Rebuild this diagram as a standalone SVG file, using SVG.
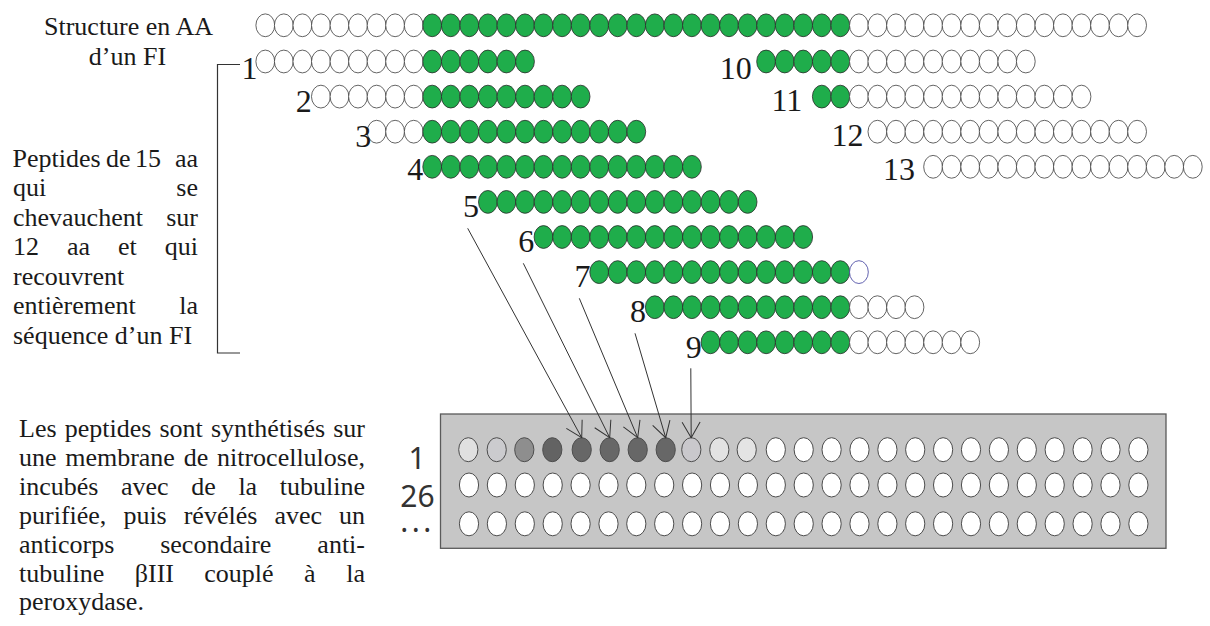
<svg xmlns="http://www.w3.org/2000/svg" width="1210" height="626" viewBox="0 0 1210 626">
<style>
.g{fill:#1fad4b;stroke:#2a2a2a;stroke-width:0.8}
.w{fill:#fff;stroke:#3c3c3c;stroke-width:0.8}
.t{font-family:'Liberation Serif',serif;font-size:26px;fill:#1a1a1a}
.n{font-family:'Liberation Serif',serif;font-size:32px;fill:#1a1a1a}
.s{font-family:'Noto Sans',sans-serif;font-size:30px;fill:#333;text-anchor:middle}
.well{stroke:#4d4d4d;stroke-width:1}
.conn line{stroke:#333;stroke-width:1;fill:none}
</style>
<defs>
<ellipse id="gb" class="g" rx="9.4" ry="11.4"/>
<ellipse id="wb" class="w" rx="9.4" ry="11.4"/>
<ellipse id="wl" class="well" rx="9.6" ry="12"/>
<marker id="ah" viewBox="-18 -10 20 20" markerWidth="20" markerHeight="20" refX="0" refY="0" orient="auto" markerUnits="userSpaceOnUse" overflow="visible">
<path d="M-15.6,-9 L0,0 L-15.6,9" fill="none" stroke="#333" stroke-width="1"/>
</marker>
</defs>
<rect width="1210" height="626" fill="#fff"/>

<g id="title">
<text class="t" x="128.5" y="35" text-anchor="middle">Structure en AA</text>
<text class="t" x="127.5" y="65" text-anchor="middle">d’un FI</text>
</g>

<g id="aa-structure" transform="translate(0,25.3)">
<use href="#wb" x="265.3"/><use href="#wb" x="283.8"/><use href="#wb" x="302.4"/><use href="#wb" x="320.9"/><use href="#wb" x="339.5"/><use href="#wb" x="358.0"/><use href="#wb" x="376.6"/><use href="#wb" x="395.1"/><use href="#wb" x="413.7"/>
<use href="#gb" x="432.2"/><use href="#gb" x="450.8"/><use href="#gb" x="469.3"/><use href="#gb" x="487.9"/><use href="#gb" x="506.4"/><use href="#gb" x="525.0"/><use href="#gb" x="543.5"/><use href="#gb" x="562.1"/><use href="#gb" x="580.6"/><use href="#gb" x="599.2"/><use href="#gb" x="617.7"/><use href="#gb" x="636.3"/><use href="#gb" x="654.8"/><use href="#gb" x="673.4"/><use href="#gb" x="691.9"/><use href="#gb" x="710.5"/><use href="#gb" x="729.0"/><use href="#gb" x="747.6"/><use href="#gb" x="766.1"/><use href="#gb" x="784.7"/><use href="#gb" x="803.2"/><use href="#gb" x="821.8"/><use href="#gb" x="840.3"/>
<use href="#wb" x="858.9"/><use href="#wb" x="877.4"/><use href="#wb" x="896.0"/><use href="#wb" x="914.5"/><use href="#wb" x="933.1"/><use href="#wb" x="951.6"/><use href="#wb" x="970.2"/><use href="#wb" x="988.7"/><use href="#wb" x="1007.3"/><use href="#wb" x="1025.8"/><use href="#wb" x="1044.4"/><use href="#wb" x="1062.9"/><use href="#wb" x="1081.5"/><use href="#wb" x="1100.0"/><use href="#wb" x="1118.6"/><use href="#wb" x="1137.1"/>
</g>

<g id="peptide-1">
<g transform="translate(0,61.5)">
<use href="#wb" x="265.3"/><use href="#wb" x="283.8"/><use href="#wb" x="302.4"/><use href="#wb" x="320.9"/><use href="#wb" x="339.5"/><use href="#wb" x="358.0"/><use href="#wb" x="376.6"/><use href="#wb" x="395.1"/><use href="#wb" x="413.7"/>
<use href="#gb" x="432.2"/><use href="#gb" x="450.8"/><use href="#gb" x="469.3"/><use href="#gb" x="487.9"/><use href="#gb" x="506.4"/><use href="#gb" x="525.0"/>
</g>
<text class="n" x="241.4" y="79.3">1</text>
</g>

<g id="peptide-2">
<g transform="translate(0,96.6)">
<use href="#wb" x="320.9"/><use href="#wb" x="339.5"/><use href="#wb" x="358.0"/><use href="#wb" x="376.6"/><use href="#wb" x="395.1"/><use href="#wb" x="413.7"/>
<use href="#gb" x="432.2"/><use href="#gb" x="450.8"/><use href="#gb" x="469.3"/><use href="#gb" x="487.9"/><use href="#gb" x="506.4"/><use href="#gb" x="525.0"/><use href="#gb" x="543.5"/><use href="#gb" x="562.1"/><use href="#gb" x="580.6"/>
</g>
<text class="n" x="295.7" y="111.5">2</text>
</g>

<g id="peptide-3">
<g transform="translate(0,131.7)">
<use href="#wb" x="376.6"/><use href="#wb" x="395.1"/><use href="#wb" x="413.7"/>
<use href="#gb" x="432.2"/><use href="#gb" x="450.8"/><use href="#gb" x="469.3"/><use href="#gb" x="487.9"/><use href="#gb" x="506.4"/><use href="#gb" x="525.0"/><use href="#gb" x="543.5"/><use href="#gb" x="562.1"/><use href="#gb" x="580.6"/><use href="#gb" x="599.2"/><use href="#gb" x="617.7"/><use href="#gb" x="636.3"/>
</g>
<text class="n" x="355.3" y="146.5">3</text>
</g>

<g id="peptide-4">
<g transform="translate(0,166.8)">
<use href="#gb" x="432.2"/><use href="#gb" x="450.8"/><use href="#gb" x="469.3"/><use href="#gb" x="487.9"/><use href="#gb" x="506.4"/><use href="#gb" x="525.0"/><use href="#gb" x="543.5"/><use href="#gb" x="562.1"/><use href="#gb" x="580.6"/><use href="#gb" x="599.2"/><use href="#gb" x="617.7"/><use href="#gb" x="636.3"/><use href="#gb" x="654.8"/><use href="#gb" x="673.4"/><use href="#gb" x="691.9"/>
</g>
<text class="n" x="407.3" y="180.3">4</text>
</g>

<g id="peptide-5">
<g transform="translate(0,201.9)">
<use href="#gb" x="487.9"/><use href="#gb" x="506.4"/><use href="#gb" x="525.0"/><use href="#gb" x="543.5"/><use href="#gb" x="562.1"/><use href="#gb" x="580.6"/><use href="#gb" x="599.2"/><use href="#gb" x="617.7"/><use href="#gb" x="636.3"/><use href="#gb" x="654.8"/><use href="#gb" x="673.4"/><use href="#gb" x="691.9"/><use href="#gb" x="710.5"/><use href="#gb" x="729.0"/><use href="#gb" x="747.6"/>
</g>
<text class="n" x="463" y="216.7">5</text>
</g>

<g id="peptide-6">
<g transform="translate(0,237)">
<use href="#gb" x="543.5"/><use href="#gb" x="562.1"/><use href="#gb" x="580.6"/><use href="#gb" x="599.2"/><use href="#gb" x="617.7"/><use href="#gb" x="636.3"/><use href="#gb" x="654.8"/><use href="#gb" x="673.4"/><use href="#gb" x="691.9"/><use href="#gb" x="710.5"/><use href="#gb" x="729.0"/><use href="#gb" x="747.6"/><use href="#gb" x="766.1"/><use href="#gb" x="784.7"/><use href="#gb" x="803.2"/>
</g>
<text class="n" x="518.2" y="251.7">6</text>
</g>

<g id="peptide-7">
<g transform="translate(0,272.1)">
<use href="#gb" x="599.2"/><use href="#gb" x="617.7"/><use href="#gb" x="636.3"/><use href="#gb" x="654.8"/><use href="#gb" x="673.4"/><use href="#gb" x="691.9"/><use href="#gb" x="710.5"/><use href="#gb" x="729.0"/><use href="#gb" x="747.6"/><use href="#gb" x="766.1"/><use href="#gb" x="784.7"/><use href="#gb" x="803.2"/><use href="#gb" x="821.8"/><use href="#gb" x="840.3"/>
<ellipse cx="858.9" cy="0" rx="9.4" ry="11.4" fill="#fff" stroke="#3a3a9a" stroke-width="0.8"/>
</g>
<text class="n" x="574.4" y="287.3">7</text>
</g>

<g id="peptide-8">
<g transform="translate(0,307.2)">
<use href="#gb" x="654.8"/><use href="#gb" x="673.4"/><use href="#gb" x="691.9"/><use href="#gb" x="710.5"/><use href="#gb" x="729.0"/><use href="#gb" x="747.6"/><use href="#gb" x="766.1"/><use href="#gb" x="784.7"/><use href="#gb" x="803.2"/><use href="#gb" x="821.8"/><use href="#gb" x="840.3"/>
<use href="#wb" x="858.9"/><use href="#wb" x="877.4"/><use href="#wb" x="896.0"/><use href="#wb" x="914.5"/>
</g>
<text class="n" x="629.9" y="321.7">8</text>
</g>

<g id="peptide-9">
<g transform="translate(0,342.3)">
<use href="#gb" x="710.5"/><use href="#gb" x="729.0"/><use href="#gb" x="747.6"/><use href="#gb" x="766.1"/><use href="#gb" x="784.7"/><use href="#gb" x="803.2"/><use href="#gb" x="821.8"/><use href="#gb" x="840.3"/>
<use href="#wb" x="858.9"/><use href="#wb" x="877.4"/><use href="#wb" x="896.0"/><use href="#wb" x="914.5"/><use href="#wb" x="933.1"/><use href="#wb" x="951.6"/><use href="#wb" x="970.2"/>
</g>
<text class="n" x="685.7" y="357.5">9</text>
</g>

<g id="peptide-10">
<g transform="translate(0,61.5)">
<use href="#gb" x="766.1"/><use href="#gb" x="784.7"/><use href="#gb" x="803.2"/><use href="#gb" x="821.8"/><use href="#gb" x="840.3"/>
<use href="#wb" x="858.9"/><use href="#wb" x="877.4"/><use href="#wb" x="896.0"/><use href="#wb" x="914.5"/><use href="#wb" x="933.1"/><use href="#wb" x="951.6"/><use href="#wb" x="970.2"/><use href="#wb" x="988.7"/><use href="#wb" x="1007.3"/><use href="#wb" x="1025.8"/>
</g>
<text class="n" x="719.7" y="79.3">10</text>
</g>

<g id="peptide-11">
<g transform="translate(0,96.6)">
<use href="#gb" x="821.8"/><use href="#gb" x="840.3"/>
<use href="#wb" x="858.9"/><use href="#wb" x="877.4"/><use href="#wb" x="896.0"/><use href="#wb" x="914.5"/><use href="#wb" x="933.1"/><use href="#wb" x="951.6"/><use href="#wb" x="970.2"/><use href="#wb" x="988.7"/><use href="#wb" x="1007.3"/><use href="#wb" x="1025.8"/><use href="#wb" x="1044.4"/><use href="#wb" x="1062.9"/><use href="#wb" x="1081.5"/>
</g>
<text class="n" x="771.4" y="111">11</text>
</g>

<g id="peptide-12">
<g transform="translate(0,131.7)">
<use href="#wb" x="877.4"/><use href="#wb" x="896.0"/><use href="#wb" x="914.5"/><use href="#wb" x="933.1"/><use href="#wb" x="951.6"/><use href="#wb" x="970.2"/><use href="#wb" x="988.7"/><use href="#wb" x="1007.3"/><use href="#wb" x="1025.8"/><use href="#wb" x="1044.4"/><use href="#wb" x="1062.9"/><use href="#wb" x="1081.5"/><use href="#wb" x="1100.0"/><use href="#wb" x="1118.6"/><use href="#wb" x="1137.1"/>
</g>
<text class="n" x="831.4" y="146">12</text>
</g>

<g id="peptide-13">
<g transform="translate(0,166.8)">
<use href="#wb" x="933.1"/><use href="#wb" x="951.6"/><use href="#wb" x="970.2"/><use href="#wb" x="988.7"/><use href="#wb" x="1007.3"/><use href="#wb" x="1025.8"/><use href="#wb" x="1044.4"/><use href="#wb" x="1062.9"/><use href="#wb" x="1081.5"/><use href="#wb" x="1100.0"/><use href="#wb" x="1118.6"/><use href="#wb" x="1137.1"/><use href="#wb" x="1155.7"/><use href="#wb" x="1174.2"/><use href="#wb" x="1192.8"/>
</g>
<text class="n" x="883.1" y="180">13</text>
</g>

<g id="bracket">
<path d="M240,64.5 H217.5 V353 H240" fill="none" stroke="#333" stroke-width="1.2"/>
</g>

<g id="peptide-description">
<text class="t" x="12.5" y="166.5">Peptides</text>
<text class="t" x="106" y="166.5">de</text>
<text class="t" x="135" y="166.5">15</text>
<text class="t" x="198" y="166.5" text-anchor="end">aa</text>
<text class="t" x="13" y="196">qui</text>
<text class="t" x="198" y="196" text-anchor="end">se</text>
<text class="t" x="13" y="225.5">chevauchent</text>
<text class="t" x="198" y="225.5" text-anchor="end">sur</text>
<text class="t" x="13" y="255">12</text>
<text class="t" x="67" y="255">aa</text>
<text class="t" x="118" y="255">et</text>
<text class="t" x="198" y="255" text-anchor="end">qui</text>
<text class="t" x="13" y="284.5">recouvrent</text>
<text class="t" x="13" y="314">entièrement</text>
<text class="t" x="198" y="314" text-anchor="end">la</text>
<text class="t" x="13" y="343.5">séquence d’un FI</text>
</g>

<g id="membrane">
<rect x="440.5" y="414" width="725.5" height="134.3" fill="#c6c6c6" stroke="#5a5a5a" stroke-width="1.3"/>
<g transform="translate(0,449.7)" fill="#fff">
<use href="#wl" x="468.3" fill="#e0e0e0"/><use href="#wl" x="496.7" fill="#cbcbce"/><use href="#wl" x="524.3" fill="#8e8e8e"/><use href="#wl" x="552.3" fill="#636363"/><use href="#wl" x="581.7" fill="#676767"/><use href="#wl" x="609.7" fill="#676767"/><use href="#wl" x="637.7" fill="#676767"/><use href="#wl" x="665.7" fill="#676767"/><use href="#wl" x="691.3" fill="#c9c8cc"/><use href="#wl" x="719.3" fill="#e2e2e2"/><use href="#wl" x="746.7" fill="#e4e4e4"/>
<use href="#wl" x="775.8"/><use href="#wl" x="803.7"/><use href="#wl" x="831.6"/><use href="#wl" x="859.5"/><use href="#wl" x="887.4"/><use href="#wl" x="915.2"/><use href="#wl" x="943.1"/><use href="#wl" x="971.0"/><use href="#wl" x="998.9"/><use href="#wl" x="1026.8"/><use href="#wl" x="1054.7"/><use href="#wl" x="1082.6"/><use href="#wl" x="1110.5"/><use href="#wl" x="1138.4"/>
</g>
<g transform="translate(0,485)" fill="#fff">
<use href="#wl" x="469.0"/><use href="#wl" x="496.9"/><use href="#wl" x="524.8"/><use href="#wl" x="552.7"/><use href="#wl" x="580.6"/><use href="#wl" x="608.5"/><use href="#wl" x="636.3"/><use href="#wl" x="664.2"/><use href="#wl" x="692.1"/><use href="#wl" x="720.0"/><use href="#wl" x="747.9"/><use href="#wl" x="775.8"/><use href="#wl" x="803.7"/><use href="#wl" x="831.6"/><use href="#wl" x="859.5"/><use href="#wl" x="887.4"/><use href="#wl" x="915.2"/><use href="#wl" x="943.1"/><use href="#wl" x="971.0"/><use href="#wl" x="998.9"/><use href="#wl" x="1026.8"/><use href="#wl" x="1054.7"/><use href="#wl" x="1082.6"/><use href="#wl" x="1110.5"/><use href="#wl" x="1138.4"/>
</g>
<g transform="translate(0,523.8)" fill="#fff">
<use href="#wl" x="469.0"/><use href="#wl" x="496.9"/><use href="#wl" x="524.8"/><use href="#wl" x="552.7"/><use href="#wl" x="580.6"/><use href="#wl" x="608.5"/><use href="#wl" x="636.3"/><use href="#wl" x="664.2"/><use href="#wl" x="692.1"/><use href="#wl" x="720.0"/><use href="#wl" x="747.9"/><use href="#wl" x="775.8"/><use href="#wl" x="803.7"/><use href="#wl" x="831.6"/><use href="#wl" x="859.5"/><use href="#wl" x="887.4"/><use href="#wl" x="915.2"/><use href="#wl" x="943.1"/><use href="#wl" x="971.0"/><use href="#wl" x="998.9"/><use href="#wl" x="1026.8"/><use href="#wl" x="1054.7"/><use href="#wl" x="1082.6"/><use href="#wl" x="1110.5"/><use href="#wl" x="1138.4"/>
</g>
<text class="s" x="417" y="468.5">1</text>
<text class="s" x="417.5" y="506.5">26</text>
<text class="s" x="417.5" y="532" font-size="20" letter-spacing="3.5">...</text>
</g>

<g id="connectors" class="conn">
<line x1="467.7" y1="228.3" x2="581.7" y2="437.7" marker-end="url(#ah)"/>
<line x1="523.3" y1="263.3" x2="609.7" y2="437.7" marker-end="url(#ah)"/>
<line x1="579.3" y1="298.3" x2="637.7" y2="437.7" marker-end="url(#ah)"/>
<line x1="635" y1="333.3" x2="665.7" y2="437.7" marker-end="url(#ah)"/>
<line x1="690.8" y1="368.3" x2="691.2" y2="437.7" marker-end="url(#ah)"/>
</g>

<g id="method-description">
<text class="t" x="19" y="437">Les</text>
<text class="t" x="64.7" y="437">peptides</text>
<text class="t" x="159.5" y="437">sont</text>
<text class="t" x="211" y="437">synthétisés</text>
<text class="t" x="365" y="437" text-anchor="end">sur</text>
<text class="t" x="19" y="466">une</text>
<text class="t" x="65.2" y="466">membrane</text>
<text class="t" x="183.7" y="466">de</text>
<text class="t" x="365" y="466" text-anchor="end">nitrocellulose,</text>
<text class="t" x="19" y="495">incubés</text>
<text class="t" x="121" y="495">avec</text>
<text class="t" x="191.3" y="495">de</text>
<text class="t" x="238.4" y="495">la</text>
<text class="t" x="365" y="495" text-anchor="end">tubuline</text>
<text class="t" x="19" y="523.5">purifiée,</text>
<text class="t" x="123.4" y="523.5">puis</text>
<text class="t" x="183.7" y="523.5">révélés</text>
<text class="t" x="274.4" y="523.5">avec</text>
<text class="t" x="365" y="523.5" text-anchor="end">un</text>
<text class="t" x="19" y="552.5">anticorps</text>
<text class="t" x="160.2" y="552.5">secondaire</text>
<text class="t" x="365" y="552.5" text-anchor="end">anti-</text>
<text class="t" x="19" y="581.5">tubuline</text>
<text class="t" x="134.8" y="581.5">βIII</text>
<text class="t" x="204.3" y="581.5">couplé</text>
<text class="t" x="304.1" y="581.5">à</text>
<text class="t" x="365" y="581.5" text-anchor="end">la</text>
<text class="t" x="19" y="610">peroxydase.</text>
</g>
</svg>
